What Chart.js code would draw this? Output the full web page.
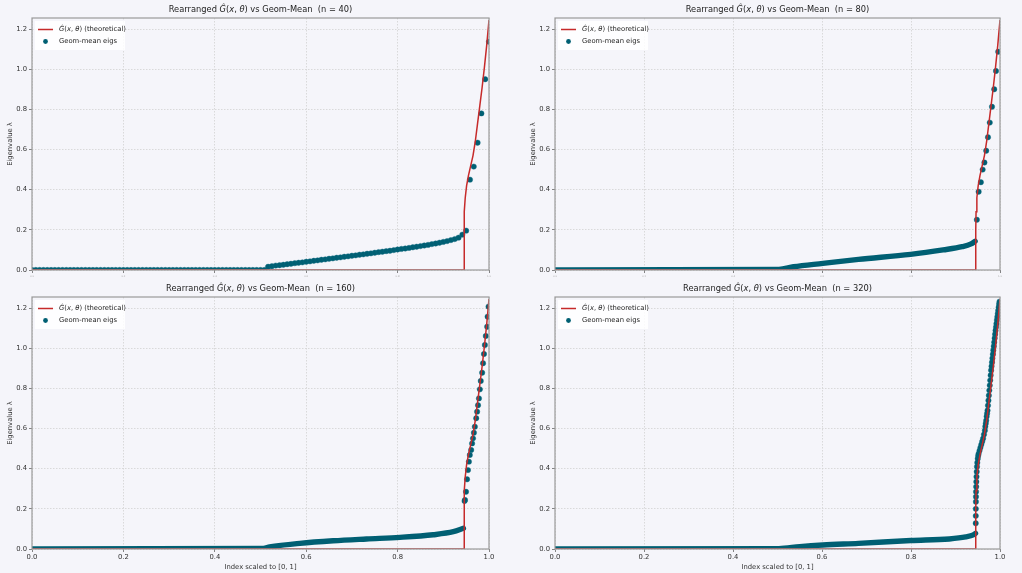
<!DOCTYPE html>
<html>
<head>
<meta charset="utf-8">
<script src="https://cdn.jsdelivr.net/npm/chart.js@4.4.1/dist/chart.umd.min.js"></script>
<style>
  html, body { margin: 0; padding: 0; background: #f5f5fa; width: 1022px; height: 573px; overflow: hidden; }
  .panel { position: absolute; }
  canvas { display: block; }
</style>
</head>
<body>
<div class="panel" style="left:0px;top:0px"><canvas id="p40" width="511" height="280"></canvas></div>
<div class="panel" style="left:523px;top:0px"><canvas id="p80" width="499" height="280"></canvas></div>
<div class="panel" style="left:0px;top:280px"><canvas id="p160" width="511" height="293"></canvas></div>
<div class="panel" style="left:523px;top:280px"><canvas id="p320" width="499" height="293"></canvas></div>
<script>
// ---- axis ticks ----
const xTicks = [0, 0.2, 0.4, 0.6, 0.8, 1.0];
const yTicks = [0, 0.2, 0.4, 0.6, 0.8, 1.0, 1.2];
const yMax = 1.255;

// ---- theoretical rearranged symbol Ĝ(x, θ) ----
const theoX = [0, 0.9455, 0.9455, 0.9462, 0.948, 0.951, 0.955, 0.960, 0.965, 0.970, 0.975, 0.980, 0.985, 0.990, 0.995, 1.0];
const theoY = [0, 0, 0.20, 0.29, 0.36, 0.42, 0.47, 0.52, 0.57, 0.64, 0.73, 0.82, 0.91, 1.01, 1.12, 1.245];

// ---- n = 40 : sorted geometric-mean eigenvalues (121 of them, index scaled to [0,1]) ----
const eig40 = [
  0, 0, 0, 0, 0, 0, 0, 0, 0, 0,
  0, 0, 0, 0, 0, 0, 0, 0, 0, 0,
  0, 0, 0, 0, 0, 0, 0, 0, 0, 0,
  0, 0, 0, 0, 0, 0, 0, 0, 0, 0,
  0, 0, 0, 0, 0, 0, 0, 0, 0, 0,
  0, 0, 0, 0, 0, 0, 0, 0, 0, 0,
  0, 0,
  0.016, 0.019, 0.022, 0.024, 0.026, 0.029, 0.031, 0.034, 0.036, 0.038,
  0.041, 0.043, 0.046, 0.048, 0.051, 0.053, 0.056, 0.058, 0.061, 0.063,
  0.066, 0.068, 0.071, 0.073, 0.076, 0.078, 0.081, 0.083, 0.086, 0.089,
  0.091, 0.094, 0.096, 0.099, 0.102, 0.105, 0.107, 0.110, 0.113, 0.116,
  0.119, 0.122, 0.125, 0.129, 0.132, 0.136, 0.140, 0.144, 0.149, 0.154,
  0.161, 0.176,
  0.196, 0.45, 0.515, 0.634, 0.78, 0.95, 1.137
];

// ---- n = 80 : dense bulk (reads as a band) and the separated top eigenvalues ----
const bulk80X = [0, 0.503, 0.536, 0.602, 0.682, 0.799, 0.872, 0.915, 0.935, 0.944];
const bulk80Y = [0, 0.003, 0.016, 0.033, 0.053, 0.078, 0.100, 0.116, 0.130, 0.143];
const top80X = [0.948, 0.952, 0.957, 0.961, 0.965, 0.969, 0.973, 0.977, 0.982, 0.987, 0.991, 0.996];
const top80Y = [0.25, 0.39, 0.437, 0.50, 0.535, 0.594, 0.661, 0.734, 0.813, 0.90, 0.991, 1.087];

// ---- n = 160 ----
const bulk160X = [0, 0.506, 0.52, 0.586, 0.659, 0.732, 0.805, 0.878, 0.922, 0.944];
const bulk160Y = [0, 0.003, 0.010, 0.028, 0.041, 0.050, 0.058, 0.071, 0.086, 0.103];
const top160X = [0.9465, 0.9475, 0.9497, 0.952, 0.954, 0.956, 0.958, 0.961, 0.963, 0.965, 0.967, 0.969, 0.972,
                 0.974, 0.976, 0.978, 0.980, 0.982, 0.985, 0.987, 0.989, 0.991, 0.993, 0.996, 0.997, 0.999];
const top160Y = [0.239, 0.244, 0.285, 0.347, 0.393, 0.435, 0.468, 0.493, 0.526, 0.551, 0.579, 0.609, 0.651,
                 0.684, 0.716, 0.750, 0.795, 0.837, 0.878, 0.925, 0.971, 1.016, 1.061, 1.107, 1.157, 1.207];

// ---- n = 320 ----
const bulk320X = [0, 0.503, 0.55, 0.602, 0.682, 0.800, 0.886, 0.923, 0.940, 0.945];
const bulk320Y = [0, 0.002, 0.012, 0.020, 0.028, 0.042, 0.050, 0.060, 0.070, 0.078];
const top320X = [0.9455, 0.9456, 0.9457, 0.9459, 0.946, 0.9462, 0.9465, 0.9468, 0.9472, 0.9477, 0.9483,
                 0.949, 0.950, 0.951, 0.952, 0.954, 0.956, 0.958, 0.960, 0.962, 0.964, 0.966, 0.967,
                 0.968, 0.969, 0.970, 0.971, 0.972, 0.973, 0.974, 0.975, 0.976, 0.977, 0.978, 0.979,
                 0.980, 0.981, 0.982, 0.983, 0.984, 0.985, 0.986, 0.987, 0.988, 0.989, 0.990, 0.991,
                 0.992, 0.993, 0.994, 0.995, 0.996, 0.997, 0.998, 0.999];
const top320Y = [0.128, 0.165, 0.20, 0.235, 0.26, 0.285, 0.31, 0.335, 0.36, 0.385, 0.41,
                 0.43, 0.45, 0.465, 0.475, 0.49, 0.505, 0.52, 0.535, 0.55, 0.57, 0.59, 0.61,
                 0.625, 0.64, 0.66, 0.675, 0.69, 0.715, 0.74, 0.765, 0.79, 0.815, 0.84, 0.865,
                 0.89, 0.91, 0.93, 0.95, 0.97, 0.99, 1.01, 1.03, 1.05, 1.07, 1.088, 1.105,
                 1.122, 1.14, 1.156, 1.172, 1.188, 1.204, 1.22, 1.232];

// ---- styling ----
const RED = '#c62a2a';
const TEAL = '#005f73';
const FONT = '"DejaVu Sans", sans-serif';
const TICK_SIZE = 6.8;
const TITLE_SIZE = 8.3;

const pts = (xs, ys) => xs.map((x, i) => ({ x, y: ys[i] }));

// draw a run of text pieces, some italic (math variables)
function drawRich(ctx, pieces, x, y, size, align) {
  const fontOf = it => (it ? 'italic ' : '') + size + 'px ' + FONT;
  let total = 0;
  pieces.forEach(([t, it]) => { ctx.font = fontOf(it); total += ctx.measureText(t).width; });
  let cx = align === 'center' ? x - total / 2 : x;
  ctx.textAlign = 'left';
  ctx.textBaseline = 'middle';
  pieces.forEach(([t, it]) => {
    ctx.font = fontOf(it);
    ctx.fillText(t, cx, y);
    cx += ctx.measureText(t).width;
  });
}

const gHat = [['Ĝ', true], ['(', false], ['x', true], [', ', false], ['θ', true], [')', false]];

const panelDeco = {
  id: 'panelDeco',
  afterDraw(chart, args, opts) {
    const { ctx, chartArea: a } = chart;
    ctx.save();
    // axes frame
    ctx.strokeStyle = '#9a9a9a';
    ctx.lineWidth = 1.2;
    ctx.strokeRect(a.left, a.top, a.right - a.left, a.bottom - a.top);

    // legend (upper left, inside the axes)
    const lx = a.left, ly = a.top;
    ctx.fillStyle = 'rgba(255,255,255,0.85)';
    ctx.fillRect(lx + 3, ly + 3, 90, 29);
    ctx.strokeStyle = RED;
    ctx.lineWidth = 1.5;
    ctx.beginPath();
    ctx.moveTo(lx + 6, ly + 11.5);
    ctx.lineTo(lx + 21, ly + 11.5);
    ctx.stroke();
    ctx.fillStyle = TEAL;
    ctx.beginPath();
    ctx.arc(lx + 13.5, ly + 23.5, 2.4, 0, Math.PI * 2);
    ctx.fill();
    ctx.fillStyle = '#222';
    drawRich(ctx, gHat.concat([[' (theoretical)', false]]), lx + 27, ly + 11.5, TICK_SIZE, 'left');
    drawRich(ctx, [['Geom-mean eigs', false]], lx + 27, ly + 23.5, TICK_SIZE, 'left');

    // panel title
    ctx.fillStyle = '#222';
    drawRich(ctx, [['Rearranged ', false]].concat(gHat, [[' vs Geom-Mean  (n = ' + opts.n + ')', false]]),
             (a.left + a.right) / 2, a.top - 8, TITLE_SIZE, 'center');
    ctx.restore();
  }
};

function makePanel(id, n, datasets, bottomRow) {
  const ctx = document.getElementById(id);
  return new Chart(ctx, {
    type: 'scatter',
    data: { datasets },
    plugins: [panelDeco],
    options: {
      responsive: false,
      animation: false,
      devicePixelRatio: 1,
      layout: { padding: { left: 0, right: 22, top: bottomRow ? 17 : 18, bottom: 0 } },
      plugins: {
        legend: { display: false },
        tooltip: { enabled: false },
        panelDeco: { n }
      },
      scales: {
        x: {
          type: 'linear', min: 0, max: 1,
          afterBuildTicks: s => { s.ticks = xTicks.map(v => ({ value: v })); },
          afterFit: s => { s.height = bottomRow ? 24 : 10; },
          grid: { color: '#d2d2d2', lineWidth: 0.8, tickLength: 3, tickColor: '#666', tickWidth: 0.8 },
          border: { display: false, dash: [1.5, 1.5] },
          ticks: {
            display: true,
            maxRotation: 0,
            padding: 1.5,
            color: bottomRow ? '#333' : '#aaa',
            font: { family: FONT, size: bottomRow ? TICK_SIZE : 2.5 },
            callback: v => v.toFixed(1)
          },
          title: {
            display: bottomRow, text: 'Index scaled to [0, 1]', color: '#333',
            font: { family: FONT, size: TICK_SIZE }, padding: { top: 0, bottom: 2 }
          }
        },
        y: {
          type: 'linear', min: 0, max: yMax,
          afterBuildTicks: s => { s.ticks = yTicks.map(v => ({ value: v })); },
          afterFit: s => { s.width = 32; },
          grid: { color: '#d2d2d2', lineWidth: 0.8, tickLength: 3, tickColor: '#666', tickWidth: 0.8 },
          border: { display: false, dash: [1.5, 1.5] },
          ticks: {
            padding: 2, color: '#333',
            font: { family: FONT, size: TICK_SIZE },
            callback: v => v.toFixed(1)
          },
          title: {
            display: true, text: 'Eigenvalue λ', color: '#333',
            font: { family: FONT, size: TICK_SIZE }, padding: { top: 6, bottom: 0 }
          }
        }
      }
    }
  });
}

const theoSet = () => ({
  label: 'Ĝ(x, θ) (theoretical)',
  data: pts(theoX, theoY),
  showLine: true, borderColor: RED, borderWidth: 1.5,
  pointRadius: 0, fill: false
});
const dotSet = data => ({
  label: 'Geom-mean eigs',
  data, pointRadius: 2.7, pointBackgroundColor: TEAL,
  pointBorderColor: '#0d6b80', pointBorderWidth: 0.4, showLine: false
});
const bulkSet = data => ({
  label: 'Geom-mean eigs (bulk)',
  data, showLine: true, borderColor: TEAL, borderWidth: 5.4,
  borderCapStyle: 'round', borderJoinStyle: 'round',
  cubicInterpolationMode: 'monotone', pointRadius: 0, fill: false
});

makePanel('p40', 40, [
  theoSet(),
  dotSet(eig40.map((y, i) => ({ x: i / (eig40.length - 1), y })))
], false);

makePanel('p80', 80, [
  theoSet(),
  dotSet(pts(top80X, top80Y)),
  bulkSet(pts(bulk80X, bulk80Y))
], false);

makePanel('p160', 160, [
  theoSet(),
  dotSet(pts(top160X, top160Y)),
  bulkSet(pts(bulk160X, bulk160Y))
], true);

makePanel('p320', 320, [
  theoSet(),
  dotSet(pts(top320X, top320Y)),
  bulkSet(pts(bulk320X, bulk320Y))
], true);
</script>
</body>
</html>
